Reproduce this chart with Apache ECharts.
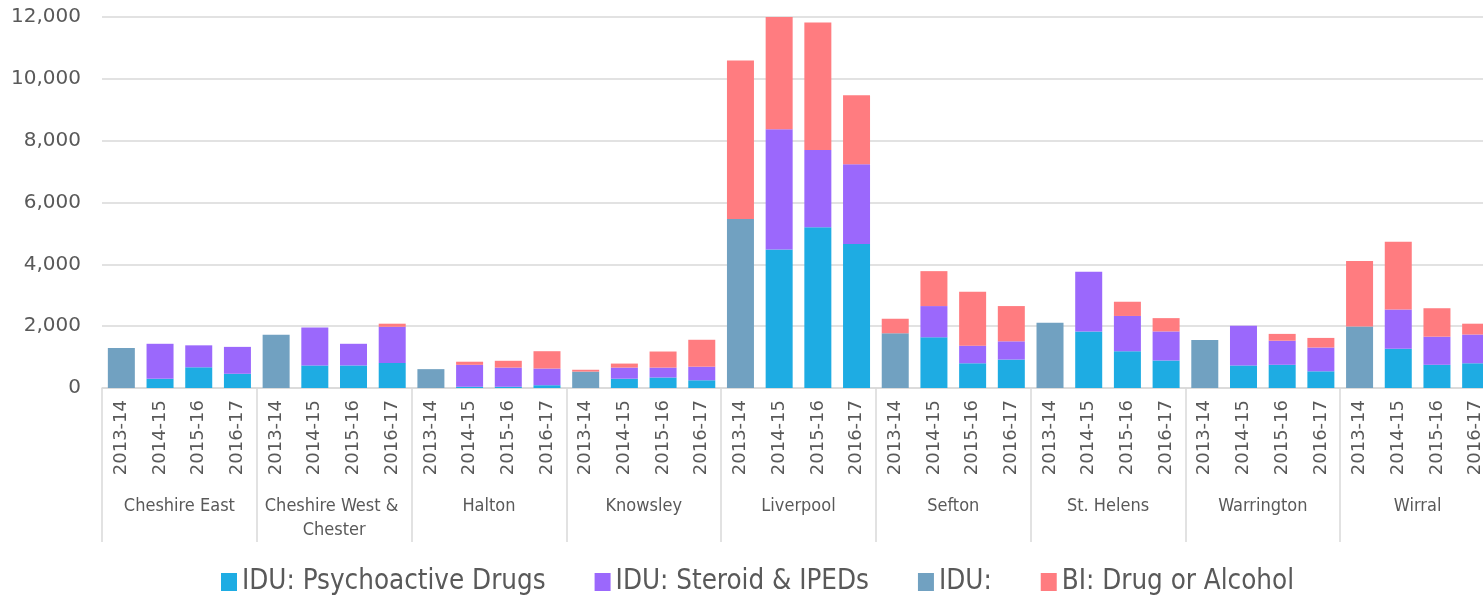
<!DOCTYPE html>
<html>
<head>
<meta charset="utf-8">
<script src="https://cdn.jsdelivr.net/npm/echarts@6/dist/echarts.min.js"></script>
<style>
  html, body { margin: 0; padding: 0; background: #fff; }
  #chart { width: 1483px; height: 597px; }
</style>
</head>
<body>
<div id="chart"></div>
<script>
// areas and years (two-level x axis)
const areas = ['Cheshire East', 'Cheshire West & Chester', 'Halton', 'Knowsley', 'Liverpool',
               'Sefton', 'St. Helens', 'Warrington', 'Wirral'];
const years = ['2013-14', '2014-15', '2015-16', '2016-17'];

// values per area, four years each
const psychoactive = [
    0, 300, 670, 460,
    0, 730, 730, 810,
    0, 40, 40, 90,
    0, 300, 340, 250,
    0, 4480, 5200, 4660,
    0, 1640, 800, 920,
    0, 1830, 1190, 890,
    0, 730, 750, 540,
    0, 1270, 750, 800
];
const steroid = [
    0, 1130, 710, 870,
    0, 1230, 700, 1170,
    0, 710, 620, 540,
    0, 360, 320, 440,
    0, 3890, 2500, 2580,
    0, 1010, 570, 590,
    0, 1930, 1140, 940,
    0, 1280, 780, 770,
    0, 1270, 910, 930
];
const idu = [
    1290, 0, 0, 0,
    1720, 0, 0, 0,
    610, 0, 0, 0,
    530, 0, 0, 0,
    5470, 0, 0, 0,
    1770, 0, 0, 0,
    2110, 0, 0, 0,
    1550, 0, 0, 0,
    1990, 0, 0, 0
];
const brief = [
    0, 0, 0, 0,
    0, 0, 0, 100,
    0, 100, 220, 560,
    60, 130, 520, 870,
    5120, 3630, 4120, 2230,
    470, 1130, 1740, 1140,
    0, 0, 460, 430,
    0, 0, 220, 310,
    2120, 2190, 920, 350
];

const seriesNames = ['IDU: Psychoactive Drugs', 'IDU: Steroid & IPEDs', 'IDU:', 'BI: Drug or Alcohol'];
const seriesValues = [psychoactive, steroid, idu, brief];
const seriesColors = ['#1EACE3', '#9B68FC', '#71A1C1', '#FF7C80'];

// one category per area/year pair
const categories = [];
areas.forEach(a => years.forEach(y => categories.push(y)));

const textColor = '#595959';
const lineColor = '#D9D9D9';
const narrowFont = '"DejaVu Sans Condensed", "Roboto", sans-serif';

const chart = echarts.init(document.getElementById('chart'));

chart.setOption({
    animation: false,
    // plot runs past the right edge, as in the original (Wirral is cut off)
    grid: { left: 102, top: 17, width: 1393, height: 371, outerBoundsMode: 'none' },
    legend: {
        left: 216,
        top: 563,
        itemWidth: 16,
        itemHeight: 18,
        itemGap: 49,
        icon: 'rect',
        textStyle: { color: textColor, fontSize: 27.5, fontFamily: narrowFont },
        data: seriesNames
    },
    xAxis: [{
        type: 'category',
        data: categories,
        axisLine: { lineStyle: { color: lineColor, width: 1.5 } },
        axisTick: { show: false },
        axisLabel: {
            interval: 0,
            rotate: 90,
            margin: 12,
            color: textColor,
            fontSize: 18,
            fontFamily: 'DejaVu Sans'
        }
    }, {
        type: 'category',
        data: areas,
        position: 'bottom',
        axisLine: { show: false },
        axisTick: { show: true, length: 154, lineStyle: { color: lineColor, width: 1.5 } },
        axisLabel: {
            interval: 0,
            margin: 106,
            width: 150,
            overflow: 'break',
            lineHeight: 24,
            color: textColor,
            fontSize: 18,
            fontFamily: narrowFont
        }
    }],
    yAxis: {
        type: 'value',
        min: 0,
        max: 12000,
        interval: 2000,
        axisLine: { show: false },
        axisTick: { show: false },
        splitLine: { lineStyle: { color: lineColor, width: 1.5 } },
        axisLabel: {
            margin: 21,
            color: textColor,
            fontSize: 20,
            fontFamily: 'DejaVu Sans',
            formatter: v => v.toLocaleString('en-US')
        }
    },
    series: seriesNames.map((name, i) => ({
        name: name,
        type: 'bar',
        stack: 'total',
        barWidth: 27,
        xAxisIndex: 0,
        itemStyle: { color: seriesColors[i] },
        data: seriesValues[i]
    }))
});
</script>
</body>
</html>
